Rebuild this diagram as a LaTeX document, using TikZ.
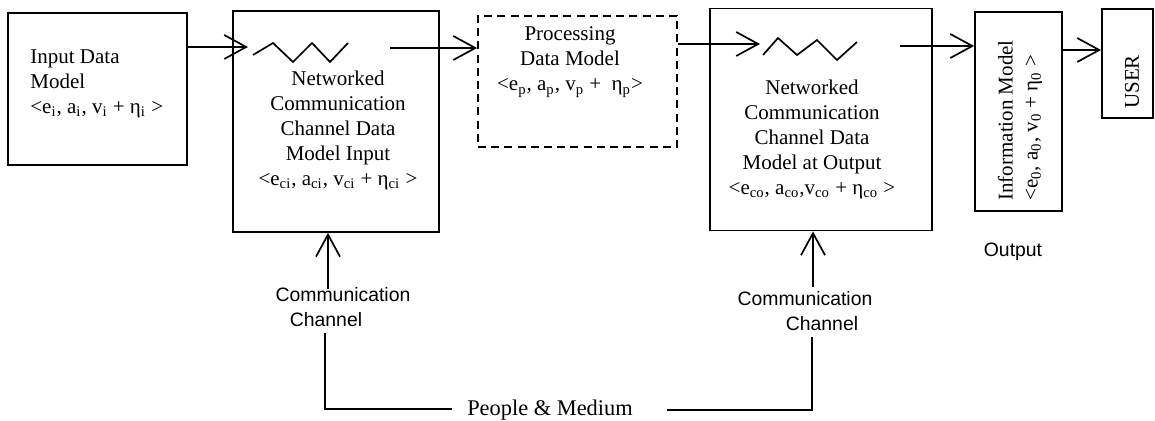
\documentclass[tikz,border=0pt]{standalone}
\usepackage{fontspec}
\setmainfont{Liberation Serif}
\setsansfont{Liberation Sans}
\usetikzlibrary{arrows.meta}

\begin{document}
\begin{tikzpicture}[x=0.5pt, y=-0.5pt,
    every node/.style={font=\fontsize{10.5}{12.5}\selectfont},
    box/.style={draw, line width=0.9pt, inner sep=0pt},
    dbox/.style={box, dash pattern=on 4pt off 2.6pt},
    txt/.style={align=center, inner sep=0pt},
    lbl/.style={align=center, inner sep=0pt, font=\sffamily\fontsize{9.7}{12.5}\selectfont},
    flow/.style={line width=0.85pt, -{Straight Barb[length=11pt, width=12pt, line width=0.85pt]}},
    wire/.style={line width=0.85pt}]
    \useasboundingbox (0,0) rectangle (1155,421);
    % boxes
    \node[box, minimum width=89.5pt, minimum height=76pt] (inbox) at (97.5,89) {};
    \node[box, minimum width=103pt, minimum height=110.5pt] (ncin) at (336,121.5) {};
    \node[dbox, minimum width=99.5pt, minimum height=65.5pt] (procbox) at (577.5,81.5) {};
    \node[box, minimum width=111pt, minimum height=111pt] (ncout) at (821,119.5) {};
    \node[box, minimum width=43.5pt, minimum height=99.5pt] (infobox) at (1018.5,111.5) {};
    \node[box, minimum width=25.5pt, minimum height=54.5pt] (userbox) at (1127.5,63.5) {};
    % texts
    \node[txt, align=left, anchor=west] (intext) at (30,84)
        {Input Data\\Model\\<e\textsubscript{i}, a\textsubscript{i}, v\textsubscript{i} + η\textsubscript{i} >};
    \node[txt] (ncintext) at (338,130)
        {Networked\\Communication\\Channel Data\\Model Input\\<e\textsubscript{ci}, a\textsubscript{ci}, v\textsubscript{ci} + η\textsubscript{ci} >};
    \node[txt] (proctext) at (570,62)
        {Processing\\Data Model\\<e\textsubscript{p}, a\textsubscript{p}, v\textsubscript{p} +~ η\textsubscript{p}>};
    \node[txt] (ncouttext) at (812,139)
        {Networked\\Communication\\Channel Data\\Model at Output\\<e\textsubscript{co}, a\textsubscript{co},v\textsubscript{co} + η\textsubscript{co} >};
    \node[txt, align=left, rotate=90, anchor=west] (infotext) at (1020,201)
        {Information Model\\<e\textsubscript{0}, a\textsubscript{0}, v\textsubscript{0} + η\textsubscript{0} >};
    \node[txt, rotate=90] (usertext) at (1132,82) {USER};
    \node[lbl] (outlbl) at (1013,252) {Output};
    \node[lbl] (chin) at (343,307) {Communication\\\hspace*{-17pt}Channel};
    \node[lbl] (chout) at (805,311) {Communication\\Channel\hspace*{-17pt}};
    \node[txt, font=\fontsize{11.2}{13}\selectfont] (pm) at (550,410) {People \& Medium};
    % zigzags inside the channel boxes
    \draw[line width=0.85pt] (253,55) -- (273,43) -- (293,62) -- (312,43) -- (330,62) -- (348,43);
    \draw[line width=0.85pt] (763,55) -- (778,38) -- (797,55) -- (817,40) -- (837,60) -- (857,42);
    % flow arrows
    \coordinate (zin1) at (248,47);
    \coordinate (zout1) at (390,48);
    \coordinate (zin2) at (760,44);
    \coordinate (zout2) at (900,46);
    \coordinate (uin) at (1101,50);
    \draw[flow] (inbox.east |- zin1) -- (zin1);
    \draw[flow] (zout1) -- (procbox.west |- zout1);
    \draw[flow] (procbox.east |- zin2) -- (zin2);
    \draw[flow] (zout2) -- (infobox.west |- zout2);
    \draw[flow] (infobox.east |- uin) -- (uin);
    % channel feeds
    \coordinate (chup1) at (328,289);
    \coordinate (chup2) at (813,287);
    \draw[flow] (chup1) -- (ncin.south -| chup1);
    \draw[flow] (chup2) -- (ncout.south -| chup2);
    \coordinate (cl1) at (325,333);
    \coordinate (cl2) at (325,409);
    \coordinate (cl3) at (452,409);
    \coordinate (cr1) at (812,337);
    \coordinate (cr2) at (812,410);
    \coordinate (cr3) at (667,410);
    \draw[wire] (cl1) -- (cl2) -- (cl3);
    \draw[wire] (cr3) -- (cr2) -- (cr1);
\end{tikzpicture}
\end{document}
